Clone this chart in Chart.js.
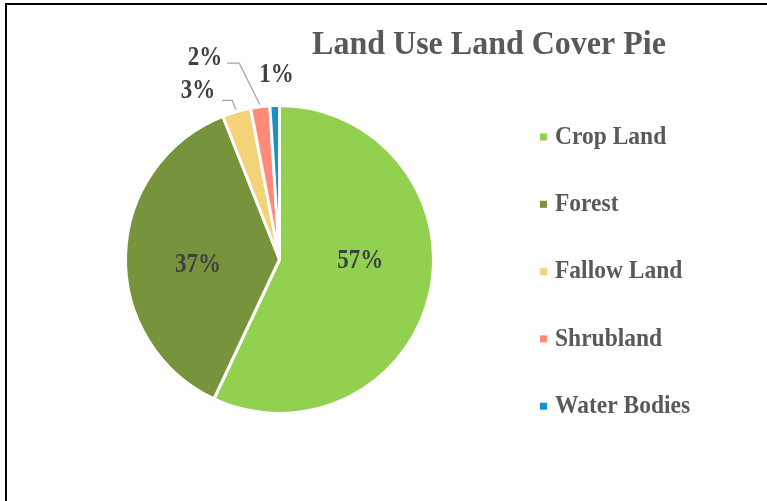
<!DOCTYPE html>
<html>
<head>
<meta charset="utf-8">
<script src="https://cdn.jsdelivr.net/npm/chart.js@4"></script>
<style>
  html, body { margin: 0; padding: 0; background: #fff; }
  #wrap { position: relative; width: 767px; height: 501px; overflow: hidden; }
  #frame { position: absolute; left: 5px; top: 3px; width: 800px; height: 600px;
           border-left: 2px solid #000; border-top: 2px solid #000; }
  canvas { position: absolute; left: 0; top: 0; }
</style>
</head>
<body>
<div id="wrap">
  <canvas id="pie" width="767" height="501"></canvas>
  <div id="frame"></div>
</div>
<script>
const categories = ["Crop Land", "Forest", "Fallow Land", "Shrubland", "Water Bodies"];
const shares = [57, 37, 3, 2, 1];
const sliceColors = ["#92D050", "#77933C", "#F4D27A", "#FF8A78", "#1592CA"];
const chartTitle = "Land Use Land Cover Pie";

const FONT = "'Liberation Serif', 'Times New Roman', serif";

// where each percentage goes, in pie-radius units from the centre
const labelSpots = [
  { at: [0.525, 0.01] },
  { at: [-0.53, 0.04] },
  { at: [-0.53, -1.09], elbow: [-0.307, -1.033], end: [-0.373, -1.033] },
  { at: [-0.484, -1.31], elbow: [-0.261, -1.275], end: [-0.34, -1.275] },
  { at: [-0.02, -1.20] }
];

// Excel-ish text looks a bit taller than wide
function tallText(ctx, txt, x, y, sy) {
  ctx.save();
  ctx.translate(x, y);
  ctx.scale(1, sy);
  ctx.fillText(txt, 0, 0);
  ctx.restore();
}

const pieDecor = {
  id: "pieDecor",
  afterDraw(chart) {
    const ctx = chart.ctx;
    const arcs = chart.getDatasetMeta(0).data;
    const data = chart.data.datasets[0].data;
    const total = data.reduce((a, b) => a + b, 0);

    ctx.save();
    // title
    ctx.fillStyle = "#595959";
    ctx.font = "bold 32px " + FONT;
    ctx.textAlign = "center";
    ctx.textBaseline = "middle";
    tallText(ctx, chartTitle, 489, 45, 1.05);

    // data labels
    arcs.forEach((arc, i) => {
      const { x, y, outerRadius: r, startAngle, endAngle } = arc.getProps(["x", "y", "outerRadius", "startAngle", "endAngle"], true);
      const spot = labelSpots[i];
      if (spot.elbow) {
        const mid = (startAngle + endAngle) / 2;
        ctx.strokeStyle = "#A6A6A6";
        ctx.lineWidth = 1.3;
        ctx.beginPath();
        ctx.moveTo(x + Math.cos(mid) * (r + 2), y + Math.sin(mid) * (r + 2));
        ctx.lineTo(x + spot.elbow[0] * r, y + spot.elbow[1] * r);
        ctx.lineTo(x + spot.end[0] * r, y + spot.end[1] * r);
        ctx.stroke();
      }
      ctx.fillStyle = "#404040";
      ctx.font = "bold 23px " + FONT;
      tallText(ctx, Math.round(data[i] / total * 100) + "%", x + spot.at[0] * r, y + spot.at[1] * r, 1.15);
    });

    // legend
    ctx.textAlign = "left";
    ctx.font = "bold 23.5px " + FONT;
    chart.data.labels.forEach((lab, i) => {
      const ly = 137 + i * 67.3;
      ctx.fillStyle = sliceColors[i];
      ctx.fillRect(540, ly - 3.5, 7, 7);
      ctx.fillStyle = "#595959";
      tallText(ctx, lab, 555, ly, 1.09);
    });
    ctx.restore();
  }
};

new Chart(document.getElementById("pie"), {
  type: "pie",
  data: {
    labels: categories,
    datasets: [{
      data: shares,
      backgroundColor: sliceColors,
      borderColor: "#ffffff",
      borderWidth: 3
    }]
  },
  options: {
    responsive: false,
    animation: false,
    events: [],
    layout: { padding: { left: 124, right: 332, top: 104, bottom: 86 } },
    plugins: {
      legend: { display: false },
      tooltip: { enabled: false }
    }
  },
  plugins: [pieDecor]
});
</script>
</body>
</html>
